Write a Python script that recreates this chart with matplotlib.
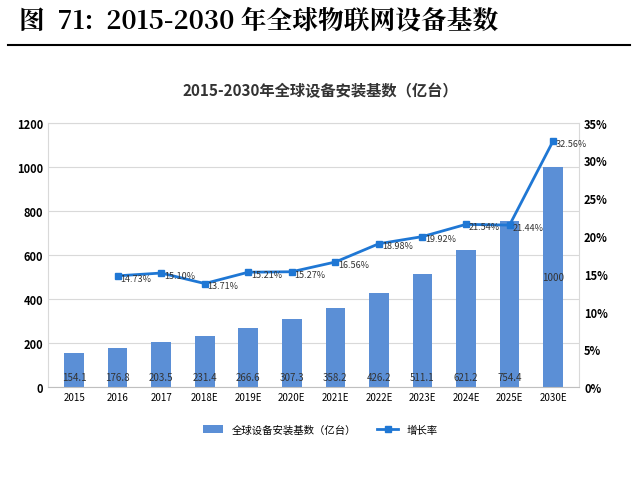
import matplotlib
matplotlib.use("Agg")
import matplotlib.pyplot as plt
from matplotlib.ticker import FuncFormatter

plt.rcParams['font.family'] = ['Noto Sans CJK SC', 'DejaVu Sans']

years = ['2015','2016','2017','2018E','2019E','2020E','2021E','2022E','2023E','2024E','2025E','2030E']
base = [154.1,176.8,203.5,231.4,266.6,307.3,358.2,426.2,511.1,621.2,754.4,1000]
growth = [None,14.73,15.10,13.71,15.21,15.27,16.56,18.98,19.92,21.54,21.44,32.56]

fig = plt.figure(figsize=(6.4,4.81), dpi=100)
fig.text(0.03, 0.955, '图  71:  2015-2030 年全球物联网设备基数', fontsize=18.5, fontweight='bold',
         family=['Noto Serif CJK SC','Noto Sans CJK SC','DejaVu Sans'], va='center')
fig.add_artist(plt.Line2D([0.013,0.985],[0.905,0.905], color='black', lw=1.5))
fig.text(0.5, 0.8, '2015-2030年全球设备安装基数（亿台）', fontsize=11, fontweight='bold', ha='center', color='#333333')

ax = fig.add_axes([0.075, 0.193, 0.83, 0.55])
x = list(range(len(years)))
ax.bar(x, base, width=0.45, color='#5b8fd6', label='全球设备安装基数（亿台）', zorder=2)
ax.set_ylim(0,1200)
ax.set_yticks(range(0,1201,200))
ax.set_xlim(-0.6, len(years)-0.4)
ax.set_xticks(x)
ax.set_xticklabels(years, fontsize=7)
ax.tick_params(axis='y', labelsize=8, length=0)
ax.tick_params(axis='x', length=0)
for l in ax.get_yticklabels(): l.set_fontweight('bold')
ax.grid(axis='y', color='#d9d9d9', lw=0.8, zorder=0)
for s in ['top','right','left']:
    ax.spines[s].set_color('#d9d9d9')
ax.spines['bottom'].set_color('#bfbfbf')
for xi, v in zip(x, base):
    ax.text(xi, 45 if v < 900 else v / 2, f'{v:g}', ha='center', va='center', fontsize=7, color='#333333')

ax2 = ax.twinx()
gx = [xi for xi, g in zip(x, growth) if g is not None]
gy = [g for g in growth if g is not None]
ax2.plot(gx, gy, color='#1f77d4', lw=2, marker='s', ms=5, label='增长率', zorder=3)
ax2.set_ylim(0,35)
ax2.set_yticks(range(0,36,5))
ax2.yaxis.set_major_formatter(FuncFormatter(lambda v,p: f'{v:.0f}%'))
ax2.tick_params(axis='y', labelsize=8, length=0)
for l in ax2.get_yticklabels(): l.set_fontweight('bold')
for s in ax2.spines.values(): s.set_visible(False)
for xi, g in zip(gx, gy):
    ax2.text(xi+0.42, g-0.3, f'{g:.2f}%', ha='center', va='center', fontsize=6.5, color='#333333')

h1, l1 = ax.get_legend_handles_labels()
h2, l2 = ax2.get_legend_handles_labels()
fig.legend(h1+h2, l1+l2, loc='center', bbox_to_anchor=(0.5, 0.105), ncol=2, frameon=False, fontsize=7.5)

fig.savefig('out.png', dpi=100)
